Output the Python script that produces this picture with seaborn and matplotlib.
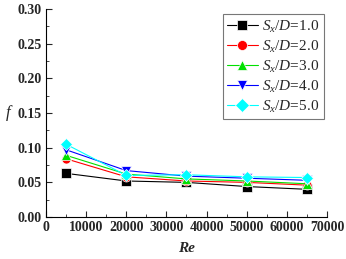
import matplotlib
matplotlib.use("Agg")
import matplotlib.pyplot as plt
import seaborn as sns
import pandas as pd
from matplotlib.ticker import MultipleLocator

re_vals = [5000, 20000, 35000, 50000, 65000]
f_10 = [0.063, 0.052, 0.050, 0.044, 0.040]
f_20 = [0.084, 0.058, 0.052, 0.050, 0.046]
f_30 = [0.089, 0.062, 0.055, 0.052, 0.048]
f_40 = [0.097, 0.067, 0.059, 0.056, 0.053]
f_50 = [0.105, 0.060, 0.061, 0.058, 0.057]
labels = [r"$S_x/D$=1.0", r"$S_x/D$=2.0", r"$S_x/D$=3.0", r"$S_x/D$=4.0", r"$S_x/D$=5.0"]
series = [f_10, f_20, f_30, f_40, f_50]
colors = ["#000000", "#ff0000", "#00e000", "#0000ff", "#00ffff"]
markers = ["s", "o", "^", "v", "D"]

rows = []
for lab, vals in zip(labels, series):
    for r, v in zip(re_vals, vals):
        rows.append({"Re": r, "f": v, "series": lab})
df = pd.DataFrame(rows)

sns.set_theme(style="ticks")
plt.rcParams["font.family"] = ["Liberation Serif", "DejaVu Serif"]
plt.rcParams["mathtext.fontset"] = "custom"
plt.rcParams["mathtext.rm"] = "Liberation Serif"
plt.rcParams["mathtext.it"] = "Liberation Serif:italic"

fig = plt.figure(figsize=(3.46, 2.59), dpi=100)
ax = fig.add_axes([0.133, 0.162, 0.812, 0.803])

sns.lineplot(data=df, x="Re", y="f", hue="series", style="series",
             palette=dict(zip(labels, colors)),
             markers=dict(zip(labels, markers)),
             dashes=False, markersize=6.5, markeredgewidth=0.5,
             linewidth=0.8, ax=ax)

ax.set_xlim(0, 70000)
ax.set_ylim(0, 0.30)
ax.xaxis.set_major_locator(MultipleLocator(10000))
ax.xaxis.set_minor_locator(MultipleLocator(5000))
ax.yaxis.set_major_locator(MultipleLocator(0.05))
ax.yaxis.set_minor_locator(MultipleLocator(0.025))
ax.yaxis.set_major_formatter(matplotlib.ticker.FormatStrFormatter("%.2f"))
ax.tick_params(which="major", direction="in", length=4, width=0.8, labelsize=10, pad=3)
ax.tick_params(which="minor", direction="in", length=2, width=0.6)
for lbl in ax.get_xticklabels() + ax.get_yticklabels():
    lbl.set_fontweight("bold")
for s in ["top", "right"]:
    ax.spines[s].set_visible(False)
for s in ["left", "bottom"]:
    ax.spines[s].set_linewidth(0.8)
    ax.spines[s].set_color("black")

ax.set_xlabel("Re", fontsize=11, fontstyle="italic", fontweight="bold")
ax.xaxis.set_label_coords(0.5, -0.12)
ax.set_ylabel("f", fontsize=12, fontstyle="italic", rotation=0, ha="center", va="center")
ax.yaxis.set_label_coords(-0.135, 0.5)

leg = ax.legend(loc="upper right", bbox_to_anchor=(1.0, 0.99), fontsize=11,
                frameon=True, fancybox=False, edgecolor="#555555",
                handlelength=2.0, handletextpad=0.3, labelspacing=0.25,
                borderpad=0.3, borderaxespad=0.2, title=None, markerscale=1.1)
leg.get_frame().set_linewidth(0.8)

fig.savefig("out.png", dpi=100)
